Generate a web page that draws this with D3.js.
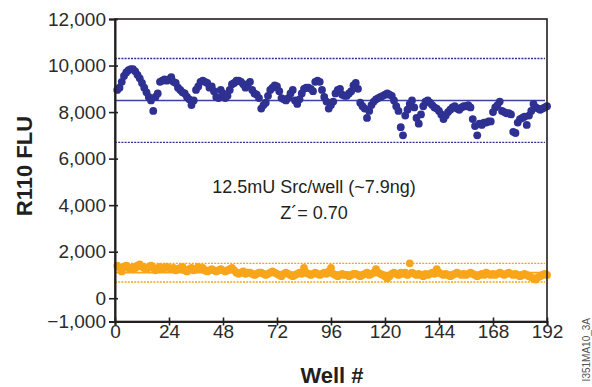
<!DOCTYPE html>
<html>
<head>
<meta charset="utf-8">
<script src="https://cdn.jsdelivr.net/npm/d3@7"></script>
<style>
  body { margin: 0; background: #fff; }
  svg { display: block; }
</style>
</head>
<body>
<div id="chart"></div>
<script>
// well numbers 1..192
const wells = d3.range(1, 193);

// kinase reaction wells (blue), R110 FLU
const kinaseFlu = [
  8950, 9050, 9300, 9550, 9700, 9800, 9850, 9850, 9750, 9600,
  9450, 9250, 9050, 8850, 8650, 8500, 8050, 8650, 8800, 9300,
  9350, 9400, 9350, 9400, 9500, 9300, 9250, 9050, 8950, 8850,
  8800, 8650, 8550, 8300, 8500, 8950, 9100, 9300, 9350, 9300,
  9250, 9050, 9100, 8900, 8650, 8600, 8950, 8800, 8600, 8700,
  8950, 9200, 9250, 9350, 9350, 9300, 9200, 9050, 9200, 9300,
  8950, 8800, 8750, 8600, 8150, 8300, 8400, 8700, 8950, 9050,
  9150, 9100, 8900, 8600, 8550, 8500, 8600, 8800, 8950, 8500,
  8350, 8550, 8800, 9000, 9050, 9050, 9000, 8900, 9300, 9350,
  9300, 8950, 8650, 8450, 8150, 8300, 8450, 8800, 8950, 9000,
  8750, 8700, 8700, 8800, 8900, 9150, 9250, 9000, 8400, 8250,
  8150, 7750, 8050, 8300, 8450, 8550, 8600, 8650, 8700, 8750,
  8800, 8750, 8700, 8500, 8250, 8050, 7350, 7000, 7850, 8100,
  8350, 8500, 8200, 7750, 7500, 7900, 8250, 8450, 8500, 8400,
  8300, 8200, 8150, 8050, 7900, 7700, 7850, 8000, 8100, 8200,
  8250, 8150, 8100, 8200, 8250, 8250, 8300, 8200, 7700, 7400,
  7000, 7500, 7450, 7550, 7550, 7600, 7600, 8000, 8200, 8300,
  8450, 8050, 8000, 7950, 7950, 7900, 7150, 7100, 7550, 7700,
  7750, 7800, 7450, 7850, 8050, 8350, 8200, 8150, 8100, 8150,
  8200, 8250
];

// no-enzyme background wells (orange)
const backgroundFlu = [
  1400, 1300, 1150, 1350, 1400, 1300, 1250, 1350, 1300, 1400, 1450, 1350,
  1300, 1250, 1350, 1400, 1300, 1200, 1300, 1350, 1250, 1300, 1350, 1300,
  1250, 1300, 1200, 1250, 1300, 1350, 1200, 1150, 1250, 1300, 1200, 1250,
  1350, 1250, 1300, 1200, 1150, 1200, 1250, 1200, 1150, 1200, 1250, 1200,
  1150, 1200, 1250, 1300, 1200, 1100, 1050, 1100, 1150, 1050, 1100, 1100,
  1050, 1000, 1050, 1100, 1100, 1050, 1000, 1050, 1100, 1150, 1100, 1050,
  1000, 950, 1050, 1100, 1050, 1000, 950, 1000, 1050, 1100, 1050, 1300,
  1100, 1050, 1000, 1050, 1100, 1050, 1000, 1050, 1100, 1050, 1150, 1300,
  1050, 1000, 950, 1000, 1050, 1000, 1000, 950, 1000, 1050, 1050, 1000,
  950, 1000, 1050, 1100, 1000, 1050, 1100, 1250, 1100, 1050, 1000, 950,
  850, 950, 1050, 1100, 1050, 1000, 1100, 1050, 1100, 1000, 1500, 1100,
  1050, 1000, 1050, 1000, 950, 1050, 1000, 1050, 1100, 1050, 1250, 1100,
  1050, 1000, 1050, 1000, 950, 1000, 1050, 1100, 1050, 1000, 1050, 1000,
  1050, 1100, 1050, 1000, 950, 1000, 1050, 1000, 1100, 1050, 1000, 1050,
  1000, 1050, 1100, 1050, 1000, 1050, 1100, 1050, 1000, 1050, 1000, 950,
  1000, 1050, 1000, 950, 900, 850, 800, 900, 950, 1000, 1050, 1000
];

// mean and +/- 3 SD lines
const kinaseMean = 8500, kinaseBand = [10300, 6700];
const backgroundMean = 1100, backgroundBand = [1500, 700];

const xTicks = [0, 24, 48, 72, 96, 120, 144, 168, 192];
const yTicks = [-1000, 0, 2000, 4000, 6000, 8000, 10000, 12000];

const W = 592, H = 387;
const mLeft = 115, mRight = 547, mTop = 19, mBottom = 321.5;
const ink = "#231f20", blue = "#2e3192", orange = "#f9a51a";
const font = "'Liberation Sans', Arial, sans-serif";

const svg = d3.select("#chart").append("svg")
  .attr("width", W).attr("height", H)
  .style("background", "#fff");

const x = d3.scaleLinear().domain([0, 192]).range([mLeft, mRight]);
const y = d3.scaleLinear().domain([-1000, 12000]).range([mBottom, mTop]);

// reference lines
const refLine = (v, color, dashed, w) => svg.append("line")
  .attr("x1", x(0)).attr("x2", x(192) - 2)
  .attr("y1", y(v)).attr("y2", y(v))
  .attr("stroke", color).attr("stroke-width", w)
  .attr("stroke-dasharray", dashed ? "2,1.2" : null);

kinaseBand.forEach(v => refLine(v, blue, true, 1.4));
refLine(kinaseMean, "#3b40a3", false, 1.6);
backgroundBand.forEach(v => refLine(v, orange, true, 1.4));
refLine(backgroundMean, orange, false, 1.6);

// points
svg.append("g").selectAll("circle")
  .data(backgroundFlu)
  .enter().append("circle")
  .attr("cx", (d, i) => x(wells[i]))
  .attr("cy", d => y(d))
  .attr("r", 3.9)
  .attr("fill", orange);

svg.append("g").selectAll("circle")
  .data(kinaseFlu)
  .enter().append("circle")
  .attr("cx", (d, i) => x(wells[i]))
  .attr("cy", d => y(d))
  .attr("r", 3.9)
  .attr("fill", blue);

// frame
svg.append("rect")
  .attr("x", mLeft).attr("y", mTop)
  .attr("width", mRight - mLeft).attr("height", mBottom - mTop)
  .attr("fill", "none").attr("stroke", ink).attr("stroke-width", 1.6);

// axes
const fmt = d3.format(",");
const yAxis = svg.append("g")
  .attr("transform", `translate(${mLeft},0)`)
  .call(d3.axisLeft(y).tickValues(yTicks).tickFormat(fmt).tickSizeOuter(0).tickSize(6).tickPadding(3));
yAxis.select(".domain").attr("stroke", ink).attr("stroke-width", 2);
yAxis.selectAll(".tick line").attr("x1", 3).attr("stroke", ink).attr("stroke-width", 1.6);
yAxis.selectAll(".tick text")
  .attr("font-family", font).attr("font-size", 19).attr("fill", "#2b2b2b");

const xAxis = svg.append("g")
  .attr("transform", `translate(0,${mBottom})`)
  .call(d3.axisBottom(x).tickValues(xTicks).tickSizeOuter(0).tickSize(4));
xAxis.select(".domain").attr("stroke", ink).attr("stroke-width", 2);
xAxis.selectAll(".tick line").attr("y1", -4).attr("stroke", ink).attr("stroke-width", 1.6);
xAxis.selectAll(".tick text")
  .attr("y", 3)
  .attr("font-family", font).attr("font-size", 19).attr("fill", "#2b2b2b");

// axis titles
svg.append("text")
  .attr("transform", "translate(32,166) rotate(-90)")
  .attr("text-anchor", "middle")
  .attr("font-family", font).attr("font-weight", "bold").attr("font-size", 22)
  .attr("fill", ink)
  .text("R110 FLU");

svg.append("text")
  .attr("x", 332).attr("y", 383)
  .attr("text-anchor", "middle")
  .attr("font-family", font).attr("font-weight", "bold").attr("font-size", 22)
  .attr("fill", ink)
  .text("Well #");

// annotation
svg.append("text")
  .attr("x", 314).attr("y", 193)
  .attr("text-anchor", "middle")
  .attr("font-family", font).attr("font-size", 18).attr("fill", ink)
  .text("12.5mU Src/well (~7.9ng)");

svg.append("text")
  .attr("x", 314).attr("y", 219)
  .attr("text-anchor", "middle")
  .attr("font-family", font).attr("font-size", 18).attr("fill", ink)
  .text("Z´= 0.70");

// figure code
svg.append("text")
  .attr("transform", "translate(590,318) rotate(-90)")
  .attr("text-anchor", "end")
  .attr("font-family", font).attr("font-size", 10).attr("fill", "#555")
  .text("I351MA10_3A");
</script>
</body>
</html>
